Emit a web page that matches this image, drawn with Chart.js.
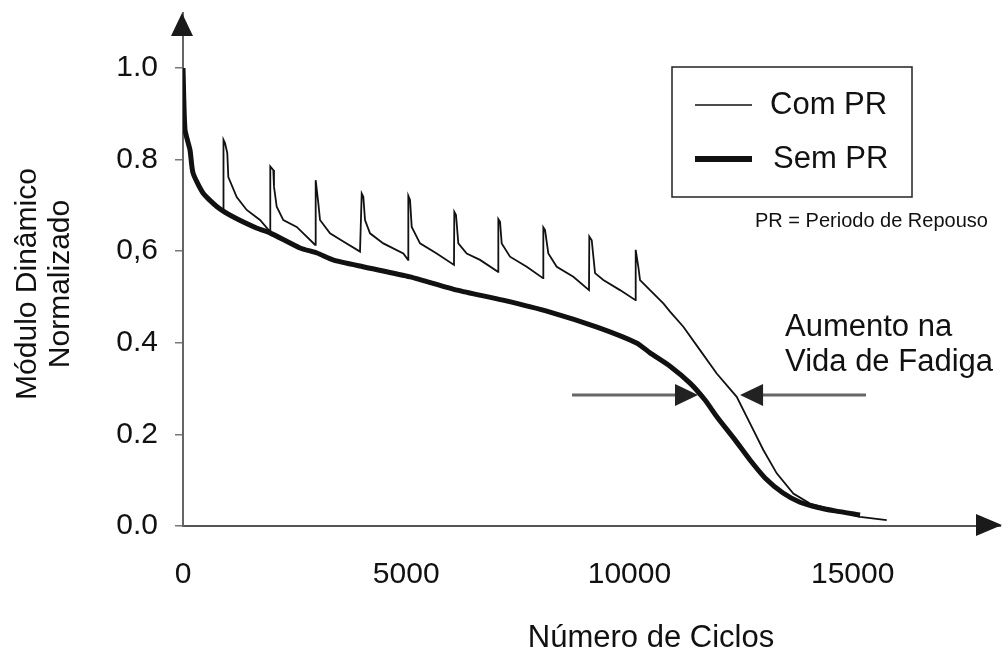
<!DOCTYPE html>
<html>
<head>
<meta charset="utf-8">
<script src="https://cdn.jsdelivr.net/npm/chart.js@4.4.0/dist/chart.umd.min.js"></script>
<style>
  html, body { margin: 0; padding: 0; background: #fff; }
</style>
</head>
<body>
<canvas id="chart" width="1008" height="654"></canvas>
<script>
// values (cycles, normalized dynamic modulus)
const semPrCycles = [0, 45, 157, 224, 448, 762, 1120, 1658, 1949, 2621, 3002, 3360, 4032, 5085, 6138, 7168, 8221, 9274, 10170, 10461, 10909, 11357, 11693, 11962, 12365, 12701, 13037, 13440, 13821, 14202, 14605, 15165];
const semPrModulus = [1.0, 0.865, 0.821, 0.771, 0.727, 0.697, 0.675, 0.650, 0.640, 0.607, 0.596, 0.581, 0.566, 0.544, 0.515, 0.493, 0.467, 0.434, 0.399, 0.378, 0.349, 0.312, 0.275, 0.238, 0.188, 0.144, 0.105, 0.072, 0.052, 0.041, 0.033, 0.024];

const comPrCycles = [0, 45, 157, 224, 448, 762, 903, 907, 941, 992, 1015, 1203, 1427, 1725, 1949, 1955, 2023, 2038, 2099, 2247, 2547, 2957, 2972, 3031, 3069, 3293, 3591, 3965, 4003, 4039, 4077, 4189, 4487, 4935, 5040, 5047, 5085, 5123, 5309, 5683, 6070, 6077, 6115, 6167, 6355, 6653, 7056, 7063, 7101, 7139, 7325, 7699, 8064, 8071, 8109, 8183, 8371, 8743, 9094, 9101, 9155, 9229, 9415, 9789, 10136, 10140, 10199, 10237, 10461, 10759, 10909, 11207, 11581, 11955, 12403, 12701, 12999, 13299, 13671, 14045, 14567, 15165, 15763];
const comPrModulus = [1.0, 0.865, 0.821, 0.771, 0.727, 0.697, 0.690, 0.843, 0.836, 0.814, 0.762, 0.718, 0.690, 0.668, 0.643, 0.785, 0.777, 0.741, 0.697, 0.668, 0.653, 0.614, 0.755, 0.705, 0.668, 0.639, 0.621, 0.599, 0.726, 0.719, 0.668, 0.639, 0.617, 0.595, 0.581, 0.721, 0.712, 0.653, 0.617, 0.595, 0.570, 0.686, 0.679, 0.617, 0.595, 0.581, 0.555, 0.670, 0.664, 0.617, 0.588, 0.566, 0.541, 0.652, 0.646, 0.595, 0.566, 0.544, 0.515, 0.632, 0.624, 0.552, 0.537, 0.515, 0.493, 0.603, 0.566, 0.537, 0.515, 0.486, 0.468, 0.435, 0.384, 0.333, 0.282, 0.224, 0.166, 0.115, 0.071, 0.049, 0.035, 0.020, 0.013];

const xTickValues = [0, 5000, 10000, 15000];
const xTickLabels = ['0', '5000', '10000', '15000'];
const yTickValues = [0, 0.2, 0.4, 0.6, 0.8, 1.0];
const yTickLabels = ['0.0', '0.2', '0.4', '0,6', '0.8', '1.0'];

// "Aumento na Vida de Fadiga" arrows, in data units
const gainArrowLevel = 0.286;
const gainArrowFrom = [8714, 15299];
const gainArrowTo = [11536, 12477];
const gainTextAt = [13485, 0.434, 0.356];

const FONT = '"Liberation Sans", Arial, sans-serif';
const INK = '#111';

const toPoints = (xs, ys) => xs.map((x, i) => ({ x: x, y: ys[i] }));

const tri = (ctx, pts) => {
    ctx.beginPath();
    ctx.moveTo(pts[0][0], pts[0][1]);
    ctx.lineTo(pts[1][0], pts[1][1]);
    ctx.lineTo(pts[2][0], pts[2][1]);
    ctx.closePath();
    ctx.fill();
};

const decorations = {
    id: 'decorations',
    afterDraw(chart) {
        const ctx = chart.ctx;
        const { left, right, top, bottom } = chart.chartArea;
        const xs = chart.scales.x;
        const ys = chart.scales.y;
        ctx.save();

        // axis arrowheads
        ctx.fillStyle = '#1a1a1a';
        tri(ctx, [[left - 1, top], [left - 12, top + 23], [left + 10, top + 23]]);
        tri(ctx, [[right + 2, bottom - 1], [right - 24, bottom - 12], [right - 24, bottom + 10]]);

        // axis titles
        ctx.fillStyle = INK;
        ctx.textAlign = 'center';
        ctx.textBaseline = 'middle';
        ctx.font = '31px ' + FONT;
        ctx.fillText('Número de Ciclos', 651, 638);

        ctx.save();
        ctx.font = '30px ' + FONT;
        ctx.translate(28, 284);
        ctx.rotate(-Math.PI / 2);
        ctx.fillText('Módulo Dinâmico', 0, 0);
        ctx.fillText('Normalizado', 0, 33);
        ctx.restore();

        // legend box
        ctx.strokeStyle = '#222';
        ctx.lineWidth = 1.5;
        ctx.strokeRect(672, 67, 240, 130);
        ctx.strokeStyle = INK;
        ctx.lineWidth = 1.5;
        ctx.beginPath();
        ctx.moveTo(695, 105);
        ctx.lineTo(752, 105);
        ctx.stroke();
        ctx.lineWidth = 6;
        ctx.beginPath();
        ctx.moveTo(695, 159);
        ctx.lineTo(752, 159);
        ctx.stroke();
        ctx.textAlign = 'left';
        ctx.font = '31px ' + FONT;
        ctx.fillText('Com PR', 770, 105);
        ctx.fillText('Sem PR', 773, 159);
        ctx.font = '20px ' + FONT;
        ctx.fillText('PR = Periodo de Repouso', 755, 221);

        // fatigue life annotation
        ctx.font = '31px ' + FONT;
        const tx = xs.getPixelForValue(gainTextAt[0]);
        ctx.fillText('Aumento na', tx, ys.getPixelForValue(gainTextAt[1]));
        ctx.fillText('Vida de Fadiga', tx, ys.getPixelForValue(gainTextAt[2]));

        const ay = ys.getPixelForValue(gainArrowLevel);
        gainArrowFrom.forEach((from, i) => {
            const x0 = xs.getPixelForValue(from);
            const x1 = xs.getPixelForValue(gainArrowTo[i]);
            const dir = x1 > x0 ? 1 : -1;
            ctx.strokeStyle = '#666';
            ctx.lineWidth = 3;
            ctx.beginPath();
            ctx.moveTo(x0, ay);
            ctx.lineTo(x1 - dir * 20, ay);
            ctx.stroke();
            ctx.fillStyle = '#222';
            tri(ctx, [[x1, ay], [x1 - dir * 23, ay - 11], [x1 - dir * 23, ay + 11]]);
        });

        ctx.restore();
    }
};

const ctx = document.getElementById('chart').getContext('2d');
new Chart(ctx, {
    type: 'line',
    data: {
        datasets: [
            {
                label: 'Sem PR',
                data: toPoints(semPrCycles, semPrModulus),
                borderColor: INK,
                borderWidth: 5,
                pointRadius: 0,
                tension: 0.2,
                fill: false,
            },
            {
                label: 'Com PR',
                data: toPoints(comPrCycles, comPrModulus),
                borderColor: INK,
                borderWidth: 1.8,
                pointRadius: 0,
                tension: 0,
                fill: false,
            },
        ],
    },
    options: {
        responsive: false,
        animation: false,
        devicePixelRatio: 1,
        layout: { padding: { left: 0, right: 8, top: 13, bottom: 0 } },
        plugins: {
            legend: { display: false },
            tooltip: { enabled: false },
        },
        scales: {
            x: {
                type: 'linear',
                min: 0,
                max: 18300,
                afterFit: (scale) => {
                    scale.height = 128;
                    scale.paddingLeft = 0;
                    scale.paddingRight = 0;
                },
                afterBuildTicks: (scale) => { scale.ticks = xTickValues.map(v => ({ value: v })); },
                grid: { display: false, drawTicks: false },
                border: { display: true, color: '#555', width: 2 },
                ticks: {
                    padding: 31,
                    color: INK,
                    font: { family: FONT, size: 30 },
                    maxRotation: 0,
                    callback: (v, i) => xTickLabels[i],
                },
            },
            y: {
                type: 'linear',
                min: 0,
                max: 1.12,
                afterFit: (scale) => {
                    scale.width = 183;
                    scale.paddingTop = 0;
                    scale.paddingBottom = 0;
                },
                afterBuildTicks: (scale) => { scale.ticks = yTickValues.map(v => ({ value: v })); },
                grid: { display: true, drawOnChartArea: false, drawTicks: true, tickLength: 8, color: '#777', lineWidth: 1.5 },
                border: { display: true, color: '#666', width: 2 },
                ticks: {
                    padding: 17,
                    color: INK,
                    font: { family: FONT, size: 30 },
                    callback: (v, i) => yTickLabels[i],
                },
            },
        },
    },
    plugins: [decorations],
});
</script>
</body>
</html>
